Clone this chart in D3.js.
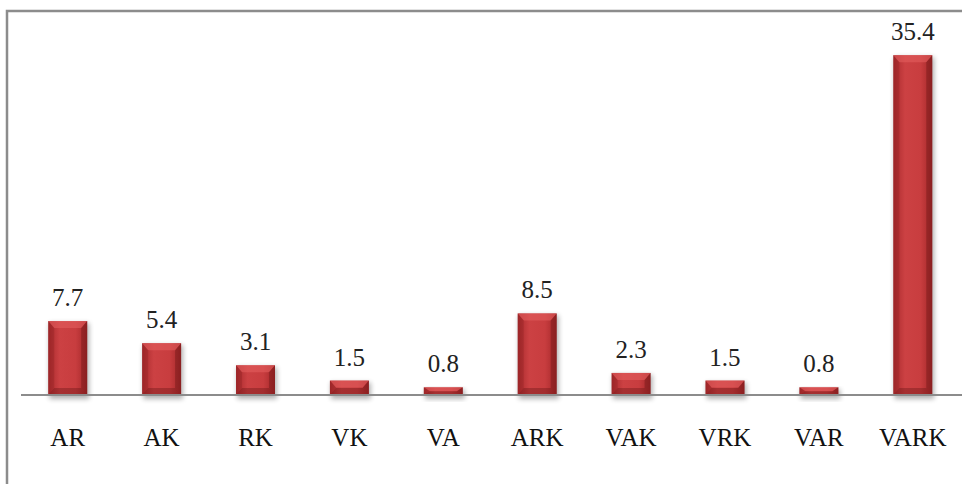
<!DOCTYPE html>
<html>
<head>
<meta charset="utf-8">
<script src="https://cdn.jsdelivr.net/npm/d3@7"></script>
<style>
  body { margin: 0; background: #fff; }
  text { font-family: "Liberation Serif", "Times New Roman", serif; }
</style>
</head>
<body>
<div id="chart"></div>
<script>
var categories = ["AR", "AK", "RK", "VK", "VA", "ARK", "VAK", "VRK", "VAR", "VARK"];
var values = [7.7, 5.4, 3.1, 1.5, 0.8, 8.5, 2.3, 1.5, 0.8, 35.4];
var labels = ["7.7", "5.4", "3.1", "1.5", "0.8", "8.5", "2.3", "1.5", "0.8", "35.4"];

var W = 962, H = 484;
var baseY = 395;

var svg = d3.select("#chart").append("svg")
    .attr("width", W)
    .attr("height", H);

var defs = svg.append("defs");

var grad = defs.append("linearGradient")
    .attr("id", "barGrad")
    .attr("x1", "0").attr("x2", "1").attr("y1", "0").attr("y2", "0");
grad.append("stop").attr("offset", "0%").attr("stop-color", "#a82a2d");
grad.append("stop").attr("offset", "30%").attr("stop-color", "#cc4143");
grad.append("stop").attr("offset", "70%").attr("stop-color", "#c83d3f");
grad.append("stop").attr("offset", "100%").attr("stop-color", "#a32729");

var shadow = defs.append("filter").attr("id", "shadow")
    .attr("x", "-30%").attr("y", "-30%").attr("width", "160%").attr("height", "160%");
shadow.append("feGaussianBlur").attr("stdDeviation", 2.5);

// chart frame
svg.append("path")
    .attr("d", "M7," + H + "V11H" + W)
    .attr("fill", "none")
    .attr("stroke", "#8c8c8c")
    .attr("stroke-width", 2.5);

var x = d3.scaleBand()
    .domain(categories)
    .range([21, 959.5])
    .paddingInner(0.585)
    .paddingOuter(0.29);

var y = d3.scaleLinear()
    .domain([0, 40])
    .range([baseY, 11]);

var data = categories.map(function (c, i) {
    return { cat: c, value: values[i], label: labels[i] };
});

var g = svg.append("g");

// shadows
g.selectAll(".shadow")
    .data(data)
    .enter().append("rect")
    .attr("class", "shadow")
    .attr("x", function (d) { return x(d.cat) + 1; })
    .attr("width", x.bandwidth() + 1)
    .attr("y", function (d) { return y(d.value) + 2; })
    .attr("height", function (d) { return baseY - y(d.value) + 2; })
    .attr("fill", "#000")
    .attr("opacity", 0.3)
    .attr("filter", "url(#shadow)");

var bars = g.selectAll(".bar")
    .data(data)
    .enter().append("g")
    .attr("class", "bar");

bars.append("rect")
    .attr("x", function (d) { return x(d.cat); })
    .attr("width", x.bandwidth())
    .attr("y", function (d) { return y(d.value); })
    .attr("height", function (d) { return baseY - y(d.value); })
    .attr("fill", "url(#barGrad)");

// bevel facets
function bevel(d, side) {
    var x0 = x(d.cat), x1 = x0 + x.bandwidth();
    var y0 = y(d.value), y1 = baseY;
    var b = Math.min(7, (y1 - y0) / 2);
    var s = Math.min(6, x.bandwidth() / 2);
    if (side === "top") return [[x0, y0], [x1, y0], [x1 - s, y0 + b], [x0 + s, y0 + b]];
    if (side === "bottom") return [[x0, y1], [x1, y1], [x1 - s, y1 - b], [x0 + s, y1 - b]];
    if (side === "left") return [[x0, y0], [x0 + s, y0 + b], [x0 + s, y1 - b], [x0, y1]];
    return [[x1, y0], [x1 - s, y0 + b], [x1 - s, y1 - b], [x1, y1]];
}
var line = d3.line();
var facets = [
    { side: "top", fill: "#e35e5e", op: 0.6 },
    { side: "bottom", fill: "#5e1012", op: 0.35 },
    { side: "left", fill: "#7a1618", op: 0.25 },
    { side: "right", fill: "#5e1012", op: 0.35 }
];
facets.forEach(function (f) {
    bars.append("path")
        .attr("d", function (d) { return line(bevel(d, f.side)) + "Z"; })
        .attr("fill", f.fill)
        .attr("opacity", f.op);
});

// axis line
svg.append("line")
    .attr("x1", 21).attr("x2", W)
    .attr("y1", baseY).attr("y2", baseY)
    .attr("stroke", "#8c8c8c")
    .attr("stroke-width", 2);

// value labels
g.selectAll(".val")
    .data(data)
    .enter().append("text")
    .attr("class", "val")
    .attr("x", function (d) { return x(d.cat) + x.bandwidth() / 2; })
    .attr("y", function (d) { return y(d.value) - 15; })
    .attr("text-anchor", "middle")
    .style("font-size", "25px")
    .attr("fill", "#222")
    .text(function (d) { return d.label; });

// category labels
g.selectAll(".cat")
    .data(data)
    .enter().append("text")
    .attr("class", "cat")
    .attr("x", function (d) { return x(d.cat) + x.bandwidth() / 2; })
    .attr("y", 446)
    .attr("text-anchor", "middle")
    .style("font-size", "25px")
    .attr("fill", "#111")
    .text(function (d) { return d.cat; });
</script>
</body>
</html>
